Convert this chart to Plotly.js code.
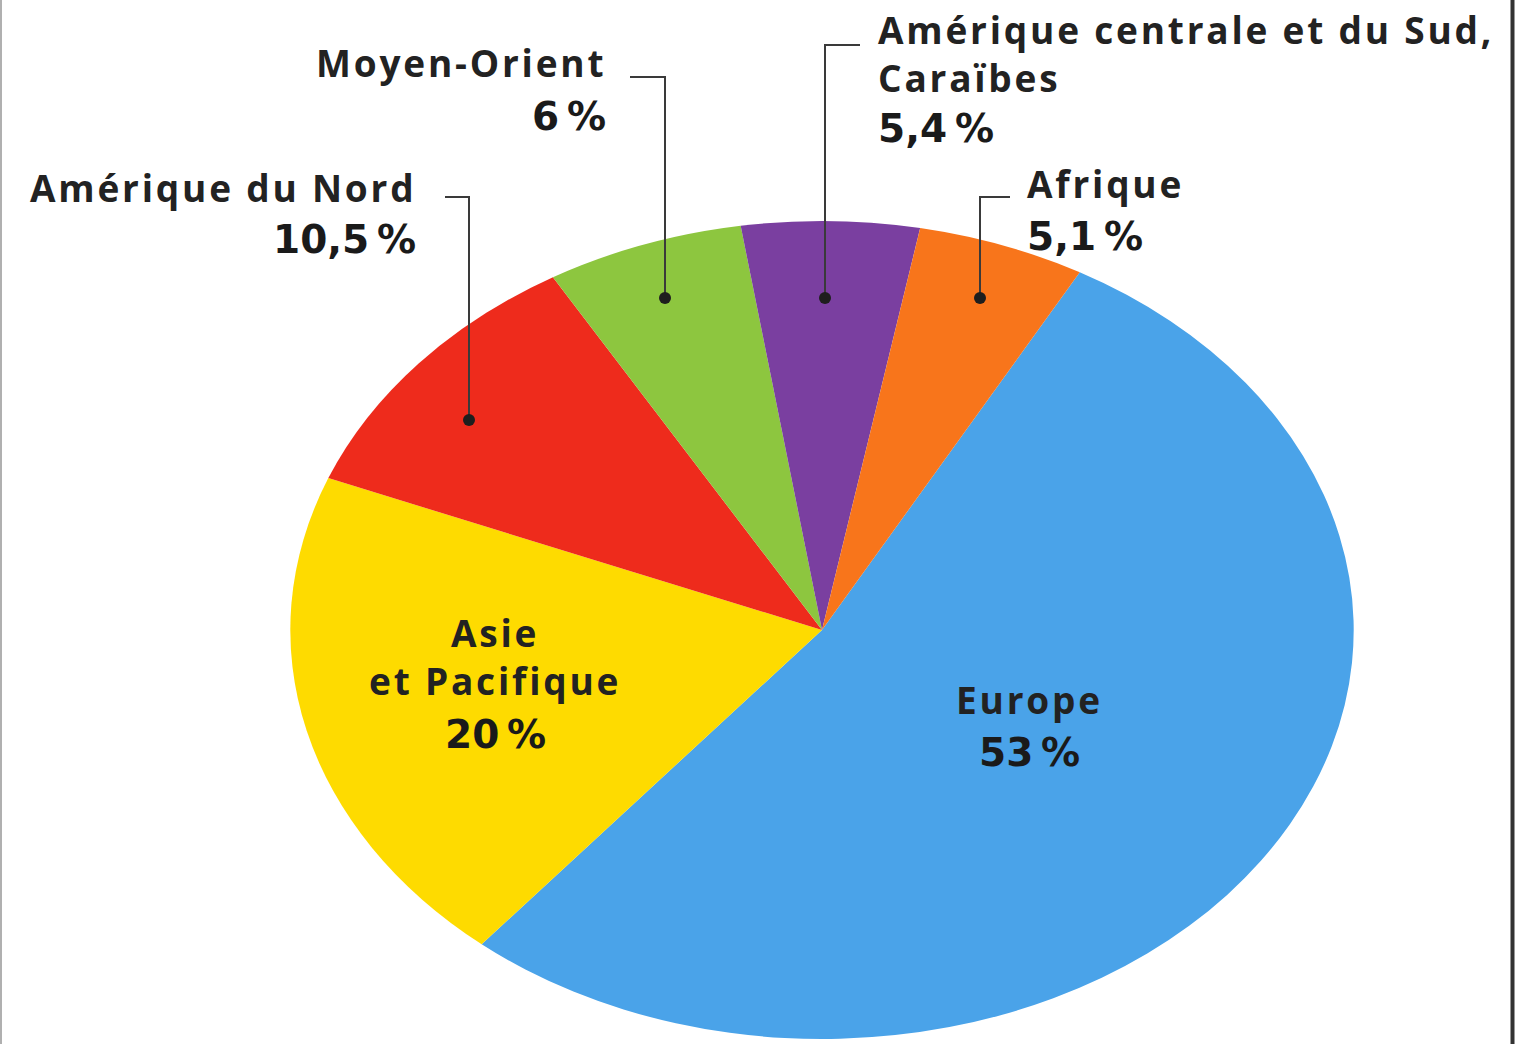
<!DOCTYPE html>
<html>
<head>
<meta charset="utf-8">
<script src="https://cdn.plot.ly/plotly-3.0.1.min.js"></script>
<style>
html, body { margin: 0; padding: 0; background: #ffffff; }
#chart { width: 1515px; height: 1044px; }
.annotation-text { letter-spacing: 2.8px; }
</style>
</head>
<body>
<div id="chart"></div>
<script>
// ---- data ----
const regions = ['Europe', 'Asie et Pacifique', 'Amérique du Nord', 'Moyen-Orient',
                 'Amérique centrale et du Sud, Caraïbes', 'Afrique'];
const shares = [53, 20, 10.5, 6, 5.4, 5.1];
const sliceColors = ['#4aa3e9', '#fedb00', '#ee2b1c', '#8dc63f', '#7a3fa0', '#f8751b'];
const nameLines = [
  ['Europe'],
  ['Asie', 'et Pacifique'],
  ['Amérique du Nord'],
  ['Moyen-Orient'],
  ['Amérique centrale et du Sud,', 'Caraïbes'],
  ['Afrique']
];

// ---- layout / placement (pixels of the 1515x1044 page) ----
const W = 1515, H = 1044;
const pieCx = 822, pieCy = 630, pieR = 409, stretchX = 1.30;
// per region: anchor x, centre y of the name block, percent centre y, alignment, leader path
const placement = [
  { x: 1029, y: 699, py: 752, align: 'center' },
  { x: 495, y: 656, py: 734, align: 'center' },
  { x: 418, y: 187, py: 240, align: 'right', leader: [[445, 197], [469, 197], [469, 420]] },
  { x: 608, y: 63, py: 117, align: 'right', leader: [[630, 77], [665, 77], [665, 298]] },
  { x: 876, y: 54, py: 128, align: 'left', leader: [[860, 45], [825, 45], [825, 298]] },
  { x: 1025, y: 183, py: 236, align: 'left', leader: [[1010, 197], [980, 197], [980, 298]] }
];

const px = v => v / W;
const py = v => 1 - v / H;
const pctText = v => String(v).replace('.', ',') + '\u202F%';

const nameFont = { family: 'Open Sans, sans-serif', size: 37, color: '#222222', weight: 700 };
const pctFont = { family: 'DejaVu Sans, sans-serif', size: 39, color: '#1a1a1a', weight: 700 };

const annotations = [];
const shapes = [];
regions.forEach((r, i) => {
  const p = placement[i];
  const xanchor = p.align;
  annotations.push({
    xref: 'paper', yref: 'paper', x: px(p.x), y: py(p.y),
    xanchor: xanchor, yanchor: 'middle', align: p.align,
    text: nameLines[i].join('<br>'), showarrow: false, font: nameFont
  });
  annotations.push({
    xref: 'paper', yref: 'paper', x: px(p.x), y: py(p.py),
    xanchor: xanchor, yanchor: 'middle', align: p.align,
    text: pctText(shares[i]), showarrow: false, font: pctFont
  });
  if (p.leader) {
    const pts = p.leader;
    let path = 'M ' + px(pts[0][0]) + ' ' + py(pts[0][1]);
    for (let j = 1; j < pts.length; j++) path += ' L ' + px(pts[j][0]) + ' ' + py(pts[j][1]);
    shapes.push({ type: 'path', xref: 'paper', yref: 'paper', path: path,
                  line: { color: '#3a3a3a', width: 2 } });
    const d = pts[pts.length - 1];
    shapes.push({ type: 'circle', xref: 'paper', yref: 'paper',
                  x0: px(d[0] - 6), x1: px(d[0] + 6), y0: py(d[1] + 6), y1: py(d[1] - 6),
                  fillcolor: '#1e1e1e', line: { width: 0 } });
  }
});

// page frame
shapes.push({ type: 'line', xref: 'paper', yref: 'paper', x0: px(1), x1: px(1), y0: 0, y1: 1,
              line: { color: '#b0b0b0', width: 2 } });
shapes.push({ type: 'line', xref: 'paper', yref: 'paper', x0: px(1512.5), x1: px(1512.5), y0: 0, y1: 1,
              line: { color: '#333333', width: 4 } });

const data = [{
  type: 'pie',
  labels: regions,
  values: shares,
  sort: false,
  direction: 'clockwise',
  rotation: 29,
  textinfo: 'none',
  hoverinfo: 'label+percent',
  showlegend: false,
  marker: { colors: sliceColors, line: { width: 0 } },
  domain: { x: [px(pieCx - pieR), px(pieCx + pieR)], y: [py(pieCy + pieR), py(pieCy - pieR)] }
}];

const layout = {
  width: W, height: H,
  margin: { l: 0, r: 0, t: 0, b: 0 },
  paper_bgcolor: '#ffffff',
  plot_bgcolor: '#ffffff',
  showlegend: false,
  annotations: annotations,
  shapes: shapes
};

Plotly.newPlot('chart', data, layout, { staticPlot: true }).then(gd => {
  // tilt the pie into an ellipse, as in the reference
  const layer = gd.querySelector('.pielayer');
  const cd0 = gd.calcdata[0][0];
  const cx = (cd0 && cd0.cx) ? cd0.cx : pieCx;
  if (layer) layer.setAttribute('transform',
    'translate(' + cx + ',0) scale(' + stretchX + ',1) translate(' + (-cx) + ',0)');
});
</script>
</body>
</html>
